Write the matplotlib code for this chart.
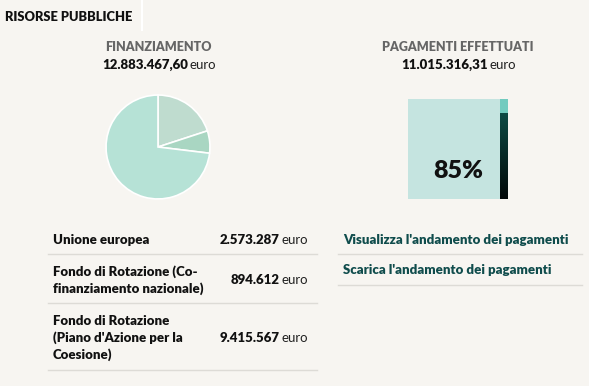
import numpy as np
import matplotlib.pyplot as plt
from matplotlib.colors import LinearSegmentedColormap

# data
finanziamento = 12883467.60
pagamenti = 11015316.31
fonti = ['Unione europea',
         'Fondo di Rotazione (Co-\nfinanziamento nazionale)',
         'Fondo di Rotazione\n(Piano d\'Azione per la\nCoesione)']
importi = [2573287, 894612, 9415567]
links = ["Visualizza l'andamento dei pagamenti", "Scarica l'andamento dei pagamenti"]

slice_colors = ['#bfdccf', '#a9d6c2', '#b6e2d6']
bg = '#f7f5f1'
FONT = 'Lato'
BOLD = 'heavy'


def it_num(v, dec=0):
    s = f'{v:,.{dec}f}'
    return s.replace(',', 'X').replace('.', ',').replace('X', '.')


W, H = 589, 386
fig = plt.figure(figsize=(W / 100, H / 100), dpi=100)
fig.patch.set_facecolor(bg)
ax = fig.add_axes([0, 0, 1, 1])
ax.axis('off')

# tab
ax.text(5, 17, 'RISORSE PUBBLICHE', fontsize=9.3, fontweight=BOLD,
        family=FONT, color='#111111', va='center')
ax.plot([142, 142], [0, 30], color='white', lw=1.5)

# headers
ax.text(158, 47, 'FINANZIAMENTO', fontsize=9, fontweight=BOLD,
        family=FONT, color='#666666', ha='center', va='center')
ax.text(188, 65, it_num(finanziamento, 2), fontsize=9.5, fontweight=BOLD,
        family=FONT, color='#111111', ha='right', va='center')
ax.text(190, 65, 'euro', fontsize=9.5, family=FONT, color='#222222', va='center')
ax.text(458, 47, 'PAGAMENTI EFFETTUATI', fontsize=9, fontweight=BOLD,
        family=FONT, color='#666666', ha='center', va='center')
ax.text(488, 65, it_num(pagamenti, 2), fontsize=9.5, fontweight=BOLD,
        family=FONT, color='#111111', ha='right', va='center')
ax.text(490, 65, 'euro', fontsize=9.5, family=FONT, color='#222222', va='center')

# pie
cx, cy, r = 158, 147, 53
pax = fig.add_axes([(cx - r) / W, 1 - (cy + r) / H, 2 * r / W, 2 * r / H])
pax.pie(importi, colors=slice_colors, startangle=90, counterclock=False,
        wedgeprops=dict(edgecolor='white', linewidth=1.2))
pax.set_aspect('equal')
pax.set_xlim(-1.02, 1.02)
pax.set_ylim(-1.02, 1.02)
pax.axis('off')

# payments square
pct = pagamenti / finanziamento
sx0, sx1, sy0, sy1 = 408, 500, 99, 199
ax.add_patch(plt.Rectangle((sx0, sy0), sx1 - sx0, sy1 - sy0, color='#c5e4e0', lw=0))
bx0, bx1 = 500, 508
ytop = sy1 - pct * (sy1 - sy0)
ax.add_patch(plt.Rectangle((bx0, sy0), bx1 - bx0, ytop - sy0, color='#72cbbf', lw=0))
grad = np.linspace(0, 1, 100).reshape(-1, 1)
cmap = LinearSegmentedColormap.from_list('g', ['#0d4a44', '#020808'])
ax.imshow(grad, cmap=cmap, extent=(bx0, bx1, sy1, ytop), aspect='auto', zorder=2)
ax.text(458, 171, f'{int(pct * 100)}%', fontsize=18, fontweight=BOLD,
        family=FONT, color='#111111', ha='center', va='center')

# table of sources
row_y = [240, 280, 338]
for lab, val, y in zip(fonti, importi, row_y):
    ax.text(53, y, lab, fontsize=9.5, fontweight=BOLD, family=FONT,
            color='#111111', va='center', linespacing=1.4)
    ax.text(280, y, it_num(val), fontsize=9.5, fontweight=BOLD, family=FONT,
            color='#111111', ha='right', va='center')
    ax.text(282, y, 'euro', fontsize=9.5, family=FONT, color='#222222', va='center')
for y in [254, 303, 370]:
    ax.plot([48, 317], [y, y], color='#dddbd6', lw=1)

# links
for lab, y in zip(links, [240, 270]):
    ax.text(343, y, lab, fontsize=9.5, fontweight=BOLD, family=FONT,
            color='#0f4c4c', va='center')
for y in [254, 285]:
    ax.plot([338, 582], [y, y], color='#dddbd6', lw=1)

ax.set_xlim(0, W)
ax.set_ylim(H, 0)
fig.savefig('out.png', dpi=100, facecolor=bg)
